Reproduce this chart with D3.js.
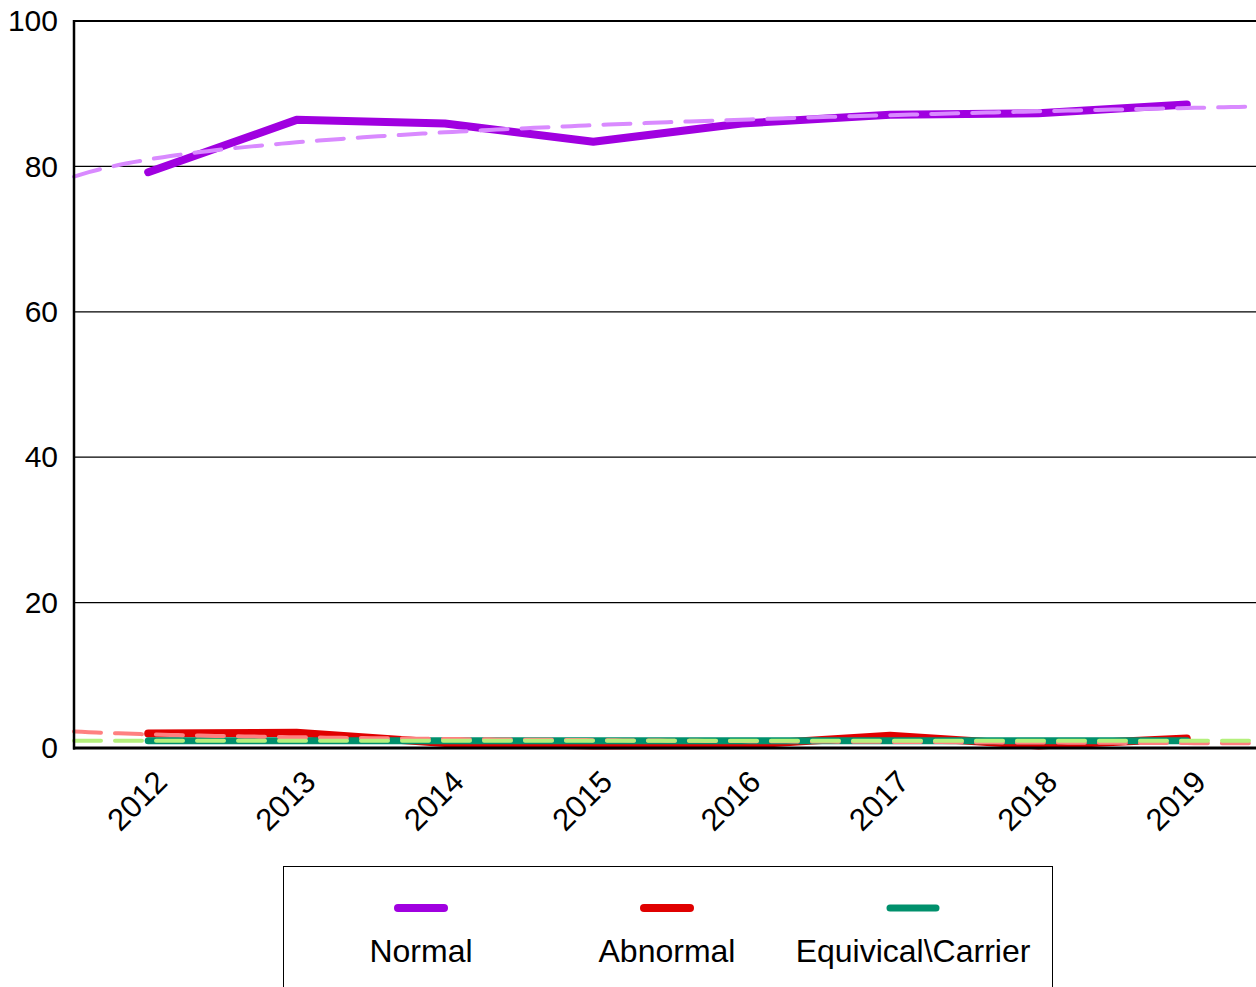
<!DOCTYPE html>
<html><head><meta charset="utf-8">
<script src="https://cdn.jsdelivr.net/npm/d3@7"></script>
<style>
html,body{margin:0;padding:0;background:#fff;overflow:hidden;}
svg{display:block;font-family:Arial,"Liberation Sans",sans-serif;}
</style></head>
<body>
<svg id="chart" width="1256" height="987"></svg>
<script>
const years = ["2012","2013","2014","2015","2016","2017","2018","2019"];
const normal = [79.2, 86.4, 85.9, 83.4, 85.9, 87.1, 87.3, 88.5];
const abnormal = [2.0, 2.1, 0.7, 0.35, 0.4, 1.7, 0.35, 1.3];
const carrier = [1.0, 1.0, 1.0, 1.0, 1.0, 1.0, 1.0, 1.0];
const yTicks = [0, 20, 40, 60, 80, 100];
const seriesNames = ["Normal", "Abnormal", "Equivical\\Carrier"];
const seriesColors = ["#a000e0", "#e00000", "#00906c"];
const trendColors = ["#d98aff", "#ff8080", "#b4f07c"];

const svg = d3.select("#chart");
const pLeft = 74, pRight = 1261, pTop = 21, pBottom = 748;

const x = d3.scaleBand().domain(years).range([pLeft, pRight]);
const xc = d => x(d) + x.bandwidth() / 2;
const xi = d3.scaleLinear().domain([0.5, years.length + 0.5]).range([pLeft, pRight]);
const y = d3.scaleLinear().domain([0, 100]).range([pBottom, pTop]);

// gridlines
svg.append("g").selectAll("line").data(yTicks.filter(t => t > 0)).join("line")
  .attr("x1", pLeft).attr("x2", 1256)
  .attr("y1", d => y(d)).attr("y2", d => y(d))
  .attr("stroke", "#000").attr("stroke-width", d => d === 100 ? 2 : 1.2);

// y axis labels
const yAxis = d3.axisLeft(y).tickValues(yTicks).tickSize(0).tickPadding(16);
const ga = svg.append("g").attr("transform", `translate(${pLeft},0)`).call(yAxis);
ga.select(".domain").remove();
ga.selectAll("text").attr("font-size", 30).attr("fill", "#000")
  .attr("font-family", "Arial, 'Liberation Sans', sans-serif");

// x axis labels
const xAxis = d3.axisBottom(x).tickSize(0).tickPadding(0);
const gx = svg.append("g").attr("transform", `translate(0,${pBottom})`).call(xAxis);
gx.select(".domain").remove();
gx.selectAll("text").attr("font-size", 31).attr("fill", "#000")
  .attr("font-family", "Arial, 'Liberation Sans', sans-serif")
  .attr("text-anchor", "end").attr("dy", null).attr("y", 0)
  .attr("transform", "translate(15,30) rotate(-45)")
  .attr("dominant-baseline", "middle");

const data = [normal, abnormal, carrier];
const line = d3.line().x((d, i) => xc(years[i])).y(d => y(d));

// series lines
data.forEach((arr, k) => {
  svg.append("path").datum(arr)
    .attr("d", line)
    .attr("fill", "none")
    .attr("stroke", seriesColors[k])
    .attr("stroke-width", k === 2 ? 7 : 8)
    .attr("stroke-linecap", "round").attr("stroke-linejoin", "round");
});

// logarithmic trendlines (least squares on ln(index))
function logFit(arr) {
  const lnx = arr.map((_, i) => Math.log(i + 1));
  const mx = d3.mean(lnx), my = d3.mean(arr);
  let sxy = 0, sxx = 0;
  arr.forEach((v, i) => { sxy += (lnx[i] - mx) * (v - my); sxx += (lnx[i] - mx) ** 2; });
  const b = sxy / sxx, a = my - b * mx;
  return t => a + b * Math.log(t);
}
data.forEach((arr, k) => {
  const f = logFit(arr);
  const pts = d3.range(0.5, years.length + 0.5001, 0.05).map(t => [xi(t), y(f(t))]);
  svg.append("path").datum(pts)
    .attr("d", d3.line())
    .attr("fill", "none")
    .attr("stroke", trendColors[k])
    .attr("stroke-width", 4)
    .attr("stroke-dasharray", "27,14")
    .attr("stroke-linecap", "round");
});

// axes lines
svg.append("line").attr("x1", pLeft).attr("x2", pLeft).attr("y1", pTop - 1).attr("y2", pBottom + 1.5)
  .attr("stroke", "#000").attr("stroke-width", 2.5);
svg.append("line").attr("x1", pLeft - 1).attr("x2", 1256).attr("y1", pBottom).attr("y2", pBottom)
  .attr("stroke", "#000").attr("stroke-width", 3);

// legend
const lg = svg.append("g");
lg.append("rect").attr("x", 283.5).attr("y", 866.5).attr("width", 769).attr("height", 140)
  .attr("fill", "#fff").attr("stroke", "#000").attr("stroke-width", 1);
const legX = d3.scalePoint().domain(seriesNames).range([421, 913]);
seriesNames.forEach((n, k) => {
  const cx = legX(n);
  lg.append("line").attr("x1", cx - 23).attr("x2", cx + 23).attr("y1", 908).attr("y2", 908)
    .attr("stroke", seriesColors[k]).attr("stroke-width", k === 2 ? 7 : 8).attr("stroke-linecap", "round");
  lg.append("text").attr("x", cx).attr("y", 962).attr("text-anchor", "middle")
    .attr("font-size", 32).attr("fill", "#000").text(n);
});
</script>
</body></html>
